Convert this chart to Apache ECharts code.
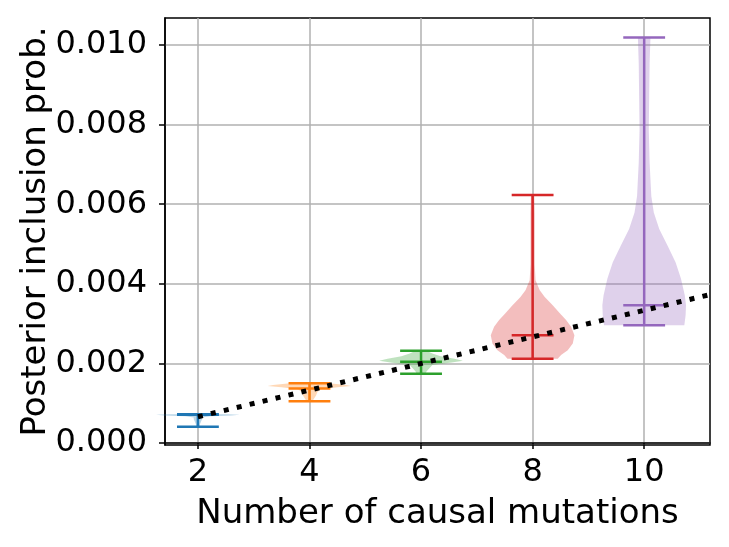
<!DOCTYPE html>
<html>
<head>
<meta charset="utf-8">
<style>
  html, body { margin: 0; padding: 0; background: #fff; }
  #chart { width: 729px; height: 547px; }
</style>
<script src="https://cdn.jsdelivr.net/npm/echarts@6.0.0/dist/echarts.min.js"></script>
</head>
<body>
<div id="chart"></div>
<script>
// x positions of the violins (number of causal mutations)
const positions = [2, 4, 6, 8, 10];
const xTicks = [2, 4, 6, 8, 10];
const yTicks = [0, 0.002, 0.004, 0.006, 0.008, 0.010];

// extrema and means
const maxVals  = [0.00072, 0.00150, 0.00232, 0.00623, 0.01019];
const meanVals = [0.00071, 0.00137, 0.00204, 0.00271, 0.00346];
const minVals  = [0.00041, 0.00105, 0.00174, 0.00212, 0.00296];

// density outline of each violin: levels (y) and relative density (peak = 1)
const levels2  = [0.00041, 0.00048, 0.00055, 0.00060, 0.00064, 0.00067, 0.00069, 0.00071, 0.00072];
const density2 = [0.04, 0.05, 0.08, 0.10, 0.10, 0.30, 0.80, 1.00, 0.70];

const levels4  = [0.00105, 0.00112, 0.00120, 0.00128, 0.00135, 0.00140, 0.00143, 0.00146, 0.00150];
const density4 = [0.07, 0.11, 0.16, 0.19, 0.27, 0.67, 1.00, 0.87, 0.47];

const levels6  = [0.00174, 0.00180, 0.00188, 0.00196, 0.00202, 0.00207, 0.00212, 0.00218, 0.00225, 0.00232];
const density6 = [0.11, 0.13, 0.20, 0.27, 0.73, 1.00, 0.80, 0.47, 0.27, 0.13];

const levels8  = [0.00212, 0.00221, 0.00233, 0.00250, 0.00271, 0.00292, 0.00309, 0.00326, 0.00346,
                  0.00367, 0.00384, 0.00409, 0.00450, 0.00493, 0.00540, 0.00577, 0.00623];
const density8 = [0.60, 0.68, 0.84, 0.96, 1.00, 0.92, 0.80, 0.65, 0.48,
                  0.29, 0.17, 0.07, 0.05, 0.05, 0.05, 0.05, 0.04];

const levels10  = [0.00296, 0.00321, 0.00346, 0.00371, 0.00413, 0.00454, 0.00496, 0.00538,
                   0.00579, 0.00621, 0.00704, 0.00788, 0.00871, 0.00954, 0.01019];
const density10 = [0.96, 0.99, 1.00, 0.97, 0.88, 0.75, 0.56, 0.36,
                   0.23, 0.17, 0.13, 0.11, 0.12, 0.13, 0.15];

// dotted reference line
const trendX = [2, 11.18];
const trendY = [0.00066, 0.00373];

const violinLevels = [levels2, levels4, levels6, levels8, levels10];
const violinDensity = [density2, density4, density6, density8, density10];

const colors = ['#1f77b4', '#ff7f0e', '#2ca02c', '#d62728', '#9467bd'];
const violinWidth = 1.5;   // full width in x units, like matplotlib widths=
const FONT = 'DejaVu Sans';

const chart = echarts.init(document.getElementById('chart'));

function renderViolin(params, api) {
  const i = api.value(0);
  const pos = positions[i];
  const lv = violinLevels[i];
  const dn = violinDensity[i];
  const half = violinWidth / 2;
  const color = colors[i];

  // outline: right side bottom->top, left side top->bottom
  const pts = [];
  for (let k = 0; k < lv.length; k++) pts.push(api.coord([pos + dn[k] * half, lv[k]]));
  for (let k = lv.length - 1; k >= 0; k--) pts.push(api.coord([pos - dn[k] * half, lv[k]]));

  const lineStyle = { stroke: color, lineWidth: 2.5 };
  const cap = violinWidth * 0.25;
  const hLine = (v) => {
    const a = api.coord([pos - cap, v]);
    const b = api.coord([pos + cap, v]);
    return { type: 'line', shape: { x1: a[0], y1: a[1], x2: b[0], y2: b[1] }, style: lineStyle };
  };
  const top = api.coord([pos, maxVals[i]]);
  const bot = api.coord([pos, minVals[i]]);

  return {
    type: 'group',
    children: [
      { type: 'polygon', shape: { points: pts }, style: { fill: color, opacity: 0.3 } },
      { type: 'line', shape: { x1: top[0], y1: top[1], x2: bot[0], y2: bot[1] }, style: lineStyle },
      hLine(maxVals[i]),
      hLine(minVals[i]),
      hLine(meanVals[i])
    ]
  };
}

const option = {
  animation: false,
  grid: {
    left: 165, right: 19, top: 18, bottom: 102,
    show: true, borderColor: '#000', borderWidth: 1.5, backgroundColor: 'transparent'
  },
  xAxis: {
    type: 'value',
    min: 1.41,
    max: 11.18,
    name: 'Number of causal mutations',
    nameLocation: 'middle',
    nameGap: 52,
    nameMoveOverlap: false,
    nameTextStyle: { fontFamily: FONT, fontSize: 34, color: '#000' },
    axisLine: { show: true, lineStyle: { color: '#000', width: 1.5 } },
    axisTick: { show: true, length: 6, lineStyle: { color: '#000', width: 1.5 }, customValues: xTicks },
    axisLabel: {
      fontFamily: FONT, fontSize: 32, color: '#000', margin: 12,
      customValues: xTicks,
      formatter: (v) => String(v)
    },
    splitLine: { show: true, lineStyle: { color: '#b0b0b0', width: 1.5 } }
  },
  yAxis: {
    type: 'value',
    min: -0.00005,
    max: 0.01068,
    name: 'Posterior inclusion prob.',
    nameLocation: 'middle',
    nameGap: 112,
    nameMoveOverlap: false,
    nameTextStyle: { fontFamily: FONT, fontSize: 34, color: '#000' },
    axisLine: { show: true, lineStyle: { color: '#000', width: 1.5 } },
    axisTick: { show: true, length: 6, lineStyle: { color: '#000', width: 1.5 }, customValues: yTicks },
    axisLabel: {
      fontFamily: FONT, fontSize: 32, color: '#000', margin: 18,
      customValues: yTicks,
      formatter: (v) => v.toFixed(3)
    },
    splitLine: { show: true, lineStyle: { color: '#b0b0b0', width: 1.5 } }
  },
  series: [
    {
      type: 'custom',
      renderItem: renderViolin,
      data: positions.map((p, i) => [i]),
      encode: { x: -1, y: -1 },
      z: 2
    },
    {
      type: 'line',
      data: trendX.map((x, i) => [x, trendY[i]]),
      symbol: 'none',
      lineStyle: { color: '#000', width: 5, type: [5, 8.3], cap: 'butt' },
      z: 5
    }
  ]
};

chart.setOption(option);
</script>
</body>
</html>
